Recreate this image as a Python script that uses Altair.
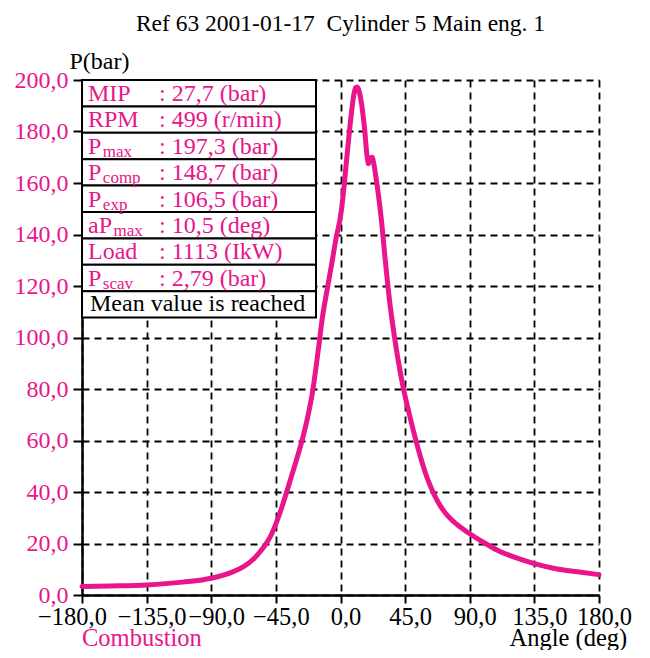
import altair as alt
import pandas as pd

# ---------------- data ----------------
TITLE = "Ref 63 2001-01-17\u00a0 Cylinder 5 Main eng. 1"
SERIES_NAME = "Combustion"

angle = [-180, -160, -135, -110, -90, -75, -67.5, -60, -56, -52,
         -48, -45, -41, -37.5, -32, -26.3, -22.5, -19.3, -16.8, -14.7,
         -12.8, -9.5, -6.3, -3.1, 0, 1.1, 2.7, 4.5, 6.2, 8,
         9.2, 10.5, 11.5, 12.5, 14.3, 16.6, 18.7, 19.5, 20.5, 22,
         23.2, 24.5, 26.5, 28.5, 31, 34, 37.5, 40.5, 43.7, 48,
         53, 56, 60, 64, 68, 75, 82, 90, 100, 110,
         122, 135, 150, 165, 180]
pressure = [3.3, 3.5, 3.9, 5.0, 6.5, 9.0, 11.0, 14.3, 16.8, 19.8,
            23.6, 27.6, 33.8, 40.0, 50.0, 61.0, 70.0, 79.5, 89.5, 98.5,
            107.0, 118.0, 128.0, 138.5, 147.0, 151.5, 160.0, 170.5, 180.0, 189.0,
            194.0, 197.0, 197.3, 196.5, 192.0, 182.0, 169.5, 167.5, 169.5, 170.0,
            167.5, 163.0, 155.0, 145.5, 131.0, 115.0, 100.5, 90.0, 80.5, 70.0,
            59.0, 53.0, 46.0, 40.5, 36.0, 30.5, 27.0, 23.8, 20.3, 17.2,
            14.5, 12.2, 10.2, 9.0, 7.9]

x_ticks = [-180, -135, -90, -45, 0, 45, 90, 135, 180]
y_ticks = [0, 20, 40, 60, 80, 100, 120, 140, 160, 180, 200]

row_names = ["MIP", "RPM", "P", "P", "P", "aP", "Load", "P"]
row_subs = ["", "", "max", "comp", "exp", "max", "", "scav"]
row_values = ["27,7 (bar)", "499 (r/min)", "197,3 (bar)", "148,7 (bar)",
              "106,5 (bar)", "10,5 (deg)", "1113 (IkW)", "2,79 (bar)"]
status_text = "Mean value is reached"

# ---------------- style ----------------
PINK = "#E8158C"
FONT = "Liberation Serif"
FS = 24
AX_FS = 24.5
SUB_FS = 17
W, H = 517, 515
ROW_H = 26.4
TABLE_W = 234
TEXT_X = 6
COLON_X = 77

# approximate Liberation Serif advance widths (em) for subscript placement
ADV = {"P": 0.556, "a": 0.444}

curve_df = pd.DataFrame({"angle": angle, "pressure": pressure})

label_expr = "replace(format(datum.value, '.1f'), '.', ',')"

x_enc = alt.X(
    "angle:Q",
    scale=alt.Scale(domain=[-180, 180], nice=False, zero=False),
    axis=alt.Axis(
        values=x_ticks, labelExpr=label_expr,
        grid=True, gridColor="black", gridDash=[7, 5], gridWidth=1.8, gridOpacity=1,
        domainColor="black", domainWidth=2.5,
        tickColor="black", tickWidth=2, tickSize=8,
        labelFont=FONT, labelFontSize=AX_FS, labelColor="black", labelPadding=2,
        labelFlush=False, labelOverlap=False,
        labelOffset={"condition": {"test": "datum.value == -180", "value": -10}, "value": 5},
        title="Angle (deg)", titleFont=FONT, titleFontSize=AX_FS, titleFontWeight="normal",
        titleColor="black", titleAlign="left", titleBaseline="alphabetic",
        titleX=427, titleY=50, titleAnchor="start",
    ),
)
y_enc = alt.Y(
    "pressure:Q",
    scale=alt.Scale(domain=[0, 200], nice=False, zero=True),
    axis=alt.Axis(
        values=y_ticks, labelExpr=label_expr,
        grid=True, gridColor="black", gridDash=[7, 5], gridWidth=1.8, gridOpacity=1,
        domainColor="black", domainWidth=2.5,
        tickColor="black", tickWidth=2, tickSize=9,
        labelFont=FONT, labelFontSize=FS, labelColor=PINK, labelPadding=5,
        labelFlush=False, labelOverlap=False,
        title="P(bar)", titleFont=FONT, titleFontSize=FS, titleFontWeight="normal",
        titleColor="black", titleAngle=0, titleAlign="left", titleBaseline="alphabetic",
        titleX=-13, titleY=-12,
    ),
)

curve = alt.Chart(curve_df).mark_line(
    color=PINK, strokeWidth=5, interpolate="monotone", strokeCap="round", strokeJoin="round"
).encode(x=x_enc, y=y_enc)

# ---- table ----
n_rows = len(row_names) + 1
table_df = pd.DataFrame({
    "top": [i * ROW_H for i in range(n_rows)],
    "bottom": [(i + 1) * ROW_H for i in range(n_rows)],
})
table_rects = alt.Chart(table_df).mark_rect(
    fill="white", stroke="black", strokeWidth=2
).encode(
    x=alt.value(0), x2=alt.value(TABLE_W),
    y=alt.Y("top:Q", scale=None), y2=alt.Y2("bottom"),
)

text_df = pd.DataFrame({
    "name": row_names,
    "sub": row_subs,
    "value": [": " + v for v in row_values],
    "base": [i * ROW_H + 21 for i in range(len(row_names))],
    "subx": [TEXT_X + 1.5 + sum(ADV.get(c, 0.5) for c in n) * FS for n in row_names],
})

name_txt = alt.Chart(text_df).mark_text(
    font=FONT, fontSize=FS, color=PINK, align="left", baseline="alphabetic"
).encode(x=alt.value(TEXT_X), y=alt.Y("base:Q", scale=None), text="name:N")

sub_txt = alt.Chart(text_df).mark_text(
    font=FONT, fontSize=SUB_FS, color=PINK, align="left", baseline="alphabetic", dy=3
).encode(x=alt.X("subx:Q", scale=None), y=alt.Y("base:Q", scale=None), text="sub:N")

val_txt = alt.Chart(text_df).mark_text(
    font=FONT, fontSize=FS, color=PINK, align="left", baseline="alphabetic"
).encode(x=alt.value(COLON_X), y=alt.Y("base:Q", scale=None), text="value:N")

status_df = pd.DataFrame({"t": [status_text], "base": [len(row_names) * ROW_H + 20]})
status_txt = alt.Chart(status_df).mark_text(
    font=FONT, fontSize=FS, color="black", align="left", baseline="alphabetic"
).encode(x=alt.value(8), y=alt.Y("base:Q", scale=None), text="t:N")

# ---- title & series label ----
title_df = pd.DataFrame({"t": [TITLE]})
title_txt = alt.Chart(title_df).mark_text(
    font=FONT, fontSize=23.5, color="black", align="center", baseline="alphabetic"
).encode(x=alt.value(W / 2), y=alt.value(-49), text="t:N")

series_df = pd.DataFrame({"t": [SERIES_NAME]})
series_txt = alt.Chart(series_df).mark_text(
    font=FONT, fontSize=AX_FS, color=PINK, align="left", baseline="alphabetic"
).encode(x=alt.value(0), y=alt.value(H + 51), text="t:N")

chart = alt.layer(
    curve, table_rects, name_txt, sub_txt, val_txt, status_txt, title_txt, series_txt
).properties(
    width=W, height=H,
    autosize=alt.AutoSizeParams(type="none"),
    padding={"left": 74, "top": 72, "right": 43, "bottom": 55},
    background="white",
).configure_view(stroke=None)

chart.save("out.html", embed_options={"renderer": "svg", "actions": False})
